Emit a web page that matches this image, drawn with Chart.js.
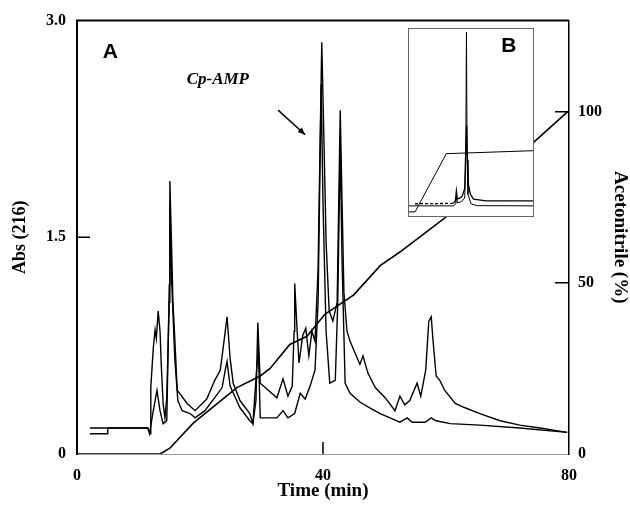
<!DOCTYPE html>
<html>
<head>
<meta charset="utf-8">
<script src="https://cdn.jsdelivr.net/npm/chart.js@4"></script>
<style>
  body { margin: 0; background: #fff; }
  #wrap { position: relative; width: 630px; height: 507px; }
  #inset { position: absolute; left: 408px; top: 28px; background: #fff; }
</style>
</head>
<body>
<div id="wrap">
  <canvas id="main" width="630" height="507"></canvas>
  <canvas id="inset" width="126" height="189"></canvas>
</div>
<script>
// time (min), absorbance at 216 nm - run 1 (higher baseline)
const traceUpper = [
  [2.1,0.18],[11.5,0.18],[11.9,0.14],[12.0,0.46],[12.4,0.73],[12.7,0.86],[12.9,0.80],[13.2,0.99],
  [13.5,0.85],[13.7,0.62],[14.0,0.35],[14.3,0.25],[14.6,0.39],[15.0,1.05],[15.1,1.89],[15.4,1.40],
  [15.6,1.05],[15.9,0.80],[16.3,0.44],[16.7,0.42],[17.9,0.35],[19.2,0.30],[21.1,0.38],[22.4,0.51],
  [23.3,0.58],[23.9,0.78],[24.4,0.95],[24.9,0.66],[25.4,0.49],[26.5,0.37],[28.1,0.28],[28.6,0.21],
  [29.1,0.37],[29.4,0.91],[29.8,0.49],[30.6,0.46],[32.5,0.39],[33.5,0.52],[34.3,0.40],[35.0,0.47],
  [35.3,0.85],[35.4,1.18],[35.8,0.85],[36.1,0.63],[36.7,0.82],[37.2,0.87],[37.7,0.68],[38.2,0.85],
  [38.7,0.78],[39.2,1.28],[39.5,2.08],[39.8,2.85],[40.2,2.08],[40.5,1.47],[41.0,0.99],[41.6,0.92],
  [42.3,1.05],[42.8,2.38],[43.1,1.74],[43.4,1.12],[43.9,0.85],[44.4,0.78],[46.0,0.62],[46.5,0.68],
  [47.3,0.56],[48.5,0.46],[50.1,0.39],[51.7,0.30],[52.5,0.40],[53.3,0.34],[54.1,0.37],[55.3,0.49],
  [55.9,0.40],[56.7,0.58],[57.2,0.92],[57.6,0.95],[57.9,0.78],[58.4,0.54],[59.0,0.51],[59.8,0.44],
  [61.5,0.35],[63.1,0.32],[65.5,0.28],[68.8,0.23],[72.0,0.20],[75.3,0.18],[79.7,0.15]
];
// run 2 (lower baseline)
const traceLower = [
  [2.1,0.14],[4.9,0.14],[5.0,0.18],[11.5,0.18],[11.8,0.14],[12.2,0.25],[12.7,0.37],[13.0,0.44],
  [13.5,0.30],[14.0,0.21],[14.6,0.23],[15.0,1.17],[15.1,1.74],[15.4,1.19],[15.9,0.66],[16.4,0.37],
  [17.1,0.30],[18.4,0.28],[19.2,0.25],[20.8,0.30],[22.4,0.39],[23.6,0.46],[24.1,0.58],[24.4,0.64],
  [24.9,0.47],[26.5,0.32],[28.1,0.23],[28.6,0.21],[29.3,0.64],[29.4,0.85],[29.8,0.25],[31.4,0.25],
  [32.5,0.25],[33.5,0.30],[34.3,0.25],[35.4,0.28],[36.3,0.42],[37.1,0.38],[37.9,0.47],[38.7,0.58],
  [39.2,1.05],[39.7,2.56],[40.0,1.74],[40.5,0.85],[41.1,0.49],[42.0,0.51],[42.4,1.05],[42.8,2.15],
  [43.1,1.33],[43.6,0.49],[44.4,0.42],[46.0,0.36],[47.6,0.32],[49.3,0.28],[50.9,0.25],[52.5,0.22],
  [53.7,0.25],[54.5,0.22],[56.6,0.22],[57.6,0.25],[58.4,0.23],[60.7,0.21],[65.5,0.20],[72.0,0.18],
  [79.7,0.15]
];
// acetonitrile gradient (%)
const gradient = [
  [0,0],[13.5,0],[15.1,1.7],[18.9,9],[22.8,14.7],[26.0,19.4],[29.8,22.8],[31.4,25],[34.6,32],
  [37.4,34.4],[40.3,40.8],[45.0,46.5],[49.3,55],[52.5,59],[59.5,68.5],[74.1,90.8],[79.8,100]
];

// inset B (relative units)
const insetGrad = [[0,2.7],[5.6,2.7],[30.4,33.5],[100,35.1]];
const insetTall = [
  [0,5.9],[36,5.9],[38,7],[38.4,11],[39.2,7.5],[42,8],[45,10],[45.8,30],[46.4,97.9],
  [46.9,30],[47.6,12],[50,7],[55,6],[100,5.9]
];
const insetShort = [
  [5.6,7],[36,7.2],[37.6,8.5],[38.4,13.8],[39.2,9.5],[41,10],[43,11],[45,15],[46,40],
  [46.6,48.4],[47.2,30],[48,17],[49.5,12],[52,9.5],[62,8.5],[100,8.5]
];

const xTicks = [0, 40, 80];
const absTicks = [0, 1.5, 3.0];
const absLabels = ['0', '1.5', '3.0'];
const acnTicks = [0, 50, 100];

const toXY = arr => arr.map(p => ({ x: p[0], y: p[1] }));
const serif = 'Liberation Serif';

const frame = {
  id: 'frame',
  afterDraw(chart) {
    const { ctx, chartArea: a, scales } = chart;
    ctx.save();
    ctx.strokeStyle = '#000';
    // top border
    ctx.lineWidth = 2;
    ctx.beginPath();
    ctx.moveTo(a.left - 1, a.top);
    ctx.lineTo(a.right, a.top);
    ctx.stroke();
    // inward tick marks
    ctx.lineWidth = 1.5;
    ctx.beginPath();
    const y15 = scales.y.getPixelForValue(1.5);
    ctx.moveTo(a.left, y15); ctx.lineTo(a.left + 13, y15);
    [50, 100].forEach(v => {
      const p = scales.y2.getPixelForValue(v);
      ctx.moveTo(a.right - 14, p); ctx.lineTo(a.right, p);
    });
    const x40 = scales.x.getPixelForValue(40);
    ctx.moveTo(x40, a.bottom); ctx.lineTo(x40, a.bottom - 12);
    ctx.stroke();

    // labels
    ctx.fillStyle = '#000';
    ctx.textAlign = 'center';
    ctx.textBaseline = 'middle';
    ctx.font = 'bold 21px "Liberation Sans"';
    ctx.fillText('A', scales.x.getPixelForValue(5.4), scales.y.getPixelForValue(2.78));
    ctx.font = 'italic bold 17px "Liberation Serif"';
    ctx.fillText('Cp-AMP', scales.x.getPixelForValue(22.9), scales.y.getPixelForValue(2.59));

    // arrow
    const x1 = scales.x.getPixelForValue(32.7), y1 = scales.y.getPixelForValue(2.38);
    const x2 = scales.x.getPixelForValue(37.1), y2 = scales.y.getPixelForValue(2.21);
    ctx.lineWidth = 1.5;
    ctx.beginPath();
    ctx.moveTo(x1, y1); ctx.lineTo(x2, y2);
    ctx.stroke();
    const ang = Math.atan2(y2 - y1, x2 - x1);
    ctx.beginPath();
    ctx.moveTo(x2, y2);
    ctx.lineTo(x2 - 8 * Math.cos(ang - 0.4), y2 - 8 * Math.sin(ang - 0.4));
    ctx.lineTo(x2 - 8 * Math.cos(ang + 0.4), y2 - 8 * Math.sin(ang + 0.4));
    ctx.closePath();
    ctx.fill();
    ctx.restore();
  }
};

const lineStyle = { borderColor: '#000', borderWidth: 1.4, pointRadius: 0, tension: 0, fill: false };

new Chart(document.getElementById('main'), {
  type: 'line',
  data: {
    datasets: [
      { ...lineStyle, label: 'run 1', data: toXY(traceUpper), yAxisID: 'y' },
      { ...lineStyle, label: 'run 2', data: toXY(traceLower), yAxisID: 'y' },
      { ...lineStyle, label: 'Acetonitrile', data: toXY(gradient), yAxisID: 'y2', borderWidth: 1.6 }
    ]
  },
  options: {
    responsive: false,
    animation: false,
    layout: { padding: { top: 16, right: 0, left: 0, bottom: 0 } },
    plugins: { legend: { display: false }, tooltip: { enabled: false } },
    scales: {
      x: {
        type: 'linear', min: 0, max: 80,
        afterBuildTicks: s => { s.ticks = xTicks.map(v => ({ value: v })); },
        afterFit: s => { s.height = 53; },
        grid: { display: false, drawTicks: false },
        border: { display: true, color: '#999', width: 1 },
        ticks: { color: '#000', padding: 12, font: { family: serif, weight: 'bold', size: 16 } },
        title: { display: true, text: 'Time (min)', color: '#000', padding: { top: 0, bottom: 6 },
                 font: { family: serif, weight: 'bold', size: 19, lineHeight: 1 } }
      },
      y: {
        type: 'linear', position: 'left', min: 0, max: 3.0,
        afterBuildTicks: s => { s.ticks = absTicks.map(v => ({ value: v })); },
        afterFit: s => { s.width = 77; },
        grid: { display: false, drawTicks: false },
        border: { display: true, color: '#000', width: 2 },
        ticks: { color: '#000', padding: 11, callback: (v, i) => absLabels[i],
                 font: { family: serif, weight: 'bold', size: 16 } },
        title: { display: true, text: 'Abs (216)', color: '#000', padding: { top: 11, bottom: 0 },
                 font: { family: serif, weight: 'bold', size: 18, lineHeight: 1 } }
      },
      y2: {
        type: 'linear', position: 'right', min: 0, max: 126.6,
        afterBuildTicks: s => { s.ticks = acnTicks.map(v => ({ value: v })); },
        afterFit: s => { s.width = 61; },
        grid: { display: false, drawTicks: false },
        border: { display: true, color: '#000', width: 1.5 },
        ticks: { color: '#000', padding: 9, font: { family: serif, weight: 'bold', size: 16 } },
        title: { display: true, text: 'Acetonitrile (%)', color: '#000', padding: { top: 1, bottom: 0 },
                 font: { family: serif, weight: 'bold', size: 19, lineHeight: 1 } }
      }
    }
  },
  plugins: [frame]
});

const insetFrame = {
  id: 'insetFrame',
  afterDraw(chart) {
    const { ctx, width, height, scales } = chart;
    ctx.save();
    ctx.strokeStyle = '#666';
    ctx.lineWidth = 1;
    ctx.strokeRect(0.5, 0.5, width - 1, height - 1);
    ctx.fillStyle = '#000';
    ctx.font = 'bold 21px "Liberation Sans"';
    ctx.textAlign = 'center';
    ctx.textBaseline = 'middle';
    ctx.fillText('B', scales.x.getPixelForValue(80), scales.y.getPixelForValue(90.4));
    ctx.restore();
  }
};

const insetLine = { borderColor: '#000', borderWidth: 1, pointRadius: 0, tension: 0, fill: false };

new Chart(document.getElementById('inset'), {
  type: 'line',
  data: {
    datasets: [
      { ...insetLine, data: toXY(insetGrad) },
      { ...insetLine, data: toXY(insetTall) },
      { ...insetLine, data: toXY(insetShort), borderWidth: 1.3,
        segment: { borderDash: c => c.p1.parsed.x <= 36 ? [3, 2] : undefined } }
    ]
  },
  options: {
    responsive: false,
    animation: false,
    layout: { padding: 0 },
    plugins: { legend: { display: false }, tooltip: { enabled: false } },
    scales: {
      x: { type: 'linear', min: 0, max: 100, display: false },
      y: { type: 'linear', min: 0, max: 100, display: false }
    }
  },
  plugins: [insetFrame]
});
</script>
</body>
</html>
